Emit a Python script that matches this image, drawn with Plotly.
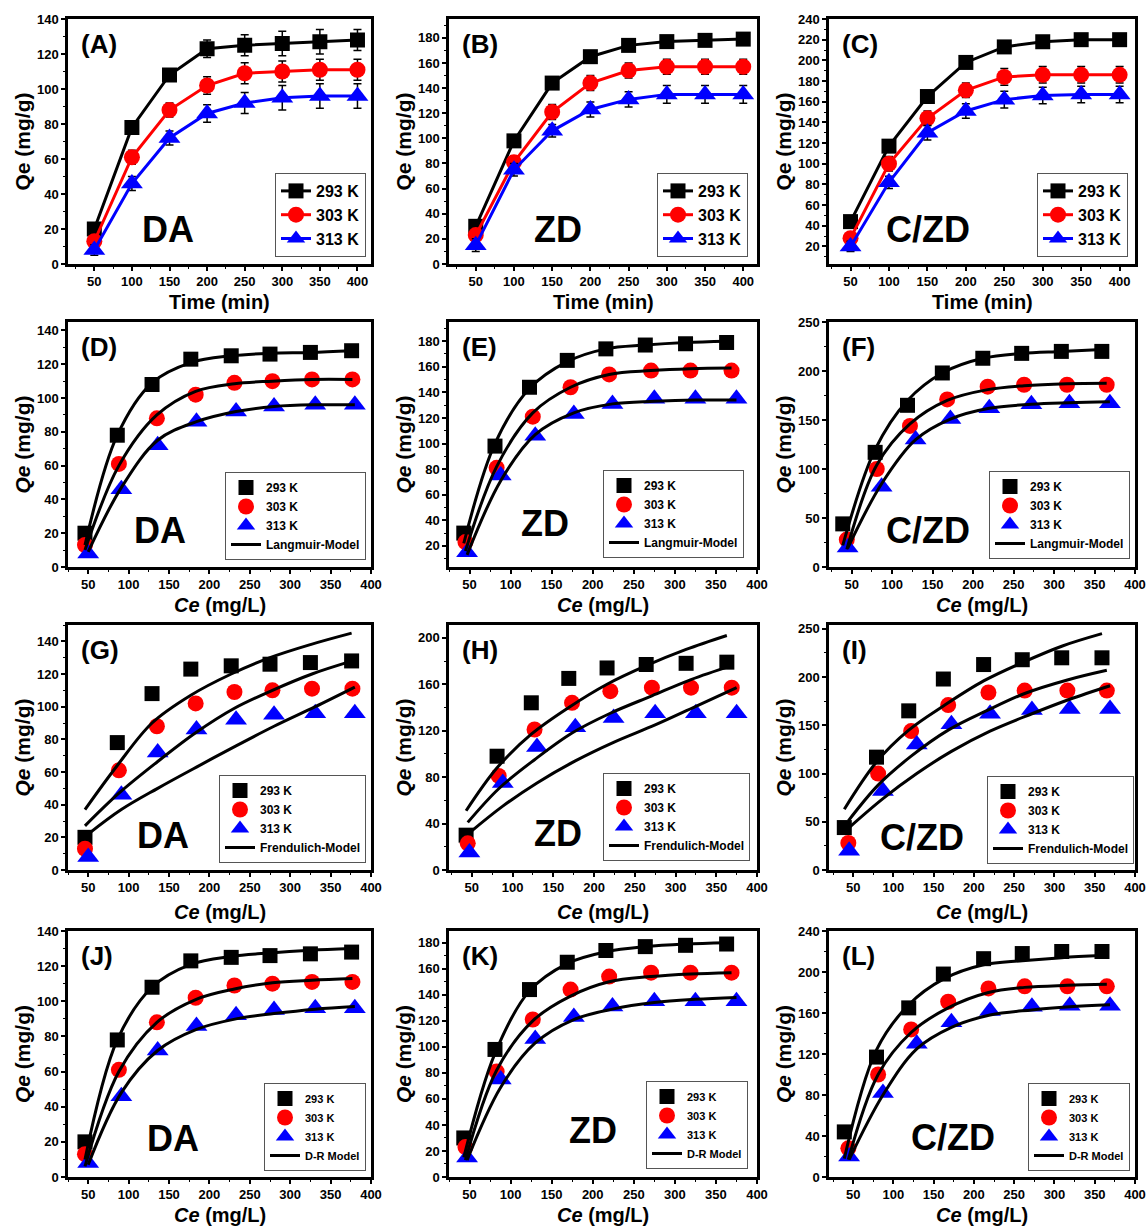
import plotly.graph_objects as go

W, H = 1146, 1229

# ---------------- data ----------------
time_min = [50, 100, 150, 200, 250, 300, 350, 400]
temps = ["293 K", "303 K", "313 K"]

# Qe (mg/g) — same equilibrium values used in kinetics and isotherm panels
qe_DA_293 = [20, 78, 108, 123, 125, 126, 127, 128]
qe_DA_303 = [13, 61, 88, 102, 109, 110, 111, 111]
qe_DA_313 = [8, 46, 72, 86, 92, 95, 96, 96]
qe_ZD_293 = [30, 98, 144, 165, 174, 177, 178, 179]
qe_ZD_303 = [23, 81, 121, 144, 154, 157, 157, 157]
qe_ZD_313 = [15, 75, 106, 123, 131, 135, 135, 135]
qe_CZD_293 = [44, 117, 165, 198, 213, 218, 220, 220]
qe_CZD_303 = [28, 100, 144, 171, 184, 186, 186, 186]
qe_CZD_313 = [20, 82, 130, 151, 162, 166, 167, 167]

# error bars (kinetics)
err_DA_293 = [3, 3, 3, 5, 6, 7, 7, 6]
err_DA_303 = [3, 4, 4, 5, 6, 6, 6, 6]
err_DA_313 = [3, 4, 4, 5, 6, 7, 7, 7]
err_ZD_293 = [3, 4, 4, 3, 3, 3, 3, 3]
err_ZD_303 = [3, 5, 6, 6, 6, 6, 6, 6]
err_ZD_313 = [5, 5, 5, 6, 6, 7, 7, 7]
err_CZD_293 = [3, 4, 4, 4, 3, 3, 3, 3]
err_CZD_303 = [5, 7, 7, 7, 8, 8, 8, 8]
err_CZD_313 = [5, 6, 7, 7, 8, 8, 8, 8]

# Ce (mg/L)
ce_DA_293 = [46, 86, 129, 177, 227, 275, 325, 376]
ce_DA_303 = [46, 88, 135, 183, 231, 278, 327, 377]
ce_DA_313 = [50, 91, 136, 184, 233, 280, 331, 380]
ce_ZD_293 = [43, 81, 123, 169, 216, 264, 313, 363]
ce_ZD_303 = [45, 83, 127, 173, 220, 271, 319, 369]
ce_ZD_313 = [47, 88, 130, 177, 224, 275, 325, 375]
ce_CZD_293 = [39, 79, 119, 162, 212, 260, 309, 359]
ce_CZD_303 = [44, 81, 122, 168, 218, 263, 316, 365]
ce_CZD_313 = [45, 87, 129, 172, 220, 272, 319, 369]

# model curves (values at the Ce points)
lang_DA_293 = [13, 78, 109, 121, 125, 126.5, 127, 128]
lang_DA_303 = [10, 60, 90, 104, 108.5, 110, 111, 111]
lang_DA_313 = [9, 47, 75, 86, 92, 95, 96, 96]
lang_ZD_293 = [22, 100, 143, 164, 174, 177, 179, 180]
lang_ZD_303 = [16, 82, 124, 144, 154, 157, 158.5, 159]
lang_ZD_313 = [13, 71, 107, 124, 131, 133, 134, 134]
lang_CZD_293 = [22, 120, 170, 198, 213, 218, 220, 222]
lang_CZD_303 = [18, 104, 146, 170, 181, 185, 187, 187.5]
lang_CZD_313 = [19, 85, 130, 151, 162, 166, 167.5, 168.5]

freu_DA_293 = [37, 64, 90, 107, 120, 130, 138, 145]
freu_DA_303 = [27, 47, 66, 84, 99, 110, 120, 128]
freu_DA_313 = [22, 37, 50, 63, 76, 88, 100, 112]
freu_ZD_293 = [51, 88, 117, 140, 160, 176, 190, 202]
freu_ZD_303 = [41, 70, 95, 118, 135, 150, 164, 176]
freu_ZD_313 = [32, 55, 75, 94, 110, 125, 141, 157]
freu_CZD_293 = [63, 112, 145, 170, 196, 215, 232, 245]
freu_CZD_303 = [51, 88, 118, 145, 166, 183, 197, 207]
freu_CZD_313 = [44, 74, 100, 123, 144, 162, 177, 191]

dr_DA_293 = [10, 78, 108, 121, 125.5, 127.5, 129, 130]
dr_DA_303 = [6, 60, 88, 101, 107, 110.5, 112, 113]
dr_DA_313 = [7, 48, 72, 84, 90, 93, 95.5, 97]
dr_ZD_293 = [15, 95, 143, 164, 173, 177, 179, 180]
dr_ZD_303 = [13, 82, 120, 139, 150, 154, 156, 157]
dr_ZD_313 = [13, 69, 103, 121, 129, 134, 136.5, 138]
dr_CZD_293 = [18, 124, 168, 193, 207, 211, 214, 216]
dr_CZD_303 = [17, 100, 141, 165, 180, 185, 187, 188]
dr_CZD_313 = [17, 80, 125, 146, 158, 163, 166, 168]

materials = {
    "DA": dict(qe=[qe_DA_293, qe_DA_303, qe_DA_313], err=[err_DA_293, err_DA_303, err_DA_313],
               ce=[ce_DA_293, ce_DA_303, ce_DA_313],
               lang=[lang_DA_293, lang_DA_303, lang_DA_313],
               freu=[freu_DA_293, freu_DA_303, freu_DA_313],
               dr=[dr_DA_293, dr_DA_303, dr_DA_313]),
    "ZD": dict(qe=[qe_ZD_293, qe_ZD_303, qe_ZD_313], err=[err_ZD_293, err_ZD_303, err_ZD_313],
               ce=[ce_ZD_293, ce_ZD_303, ce_ZD_313],
               lang=[lang_ZD_293, lang_ZD_303, lang_ZD_313],
               freu=[freu_ZD_293, freu_ZD_303, freu_ZD_313],
               dr=[dr_ZD_293, dr_ZD_303, dr_ZD_313]),
    "C/ZD": dict(qe=[qe_CZD_293, qe_CZD_303, qe_CZD_313], err=[err_CZD_293, err_CZD_303, err_CZD_313],
                 ce=[ce_CZD_293, ce_CZD_303, ce_CZD_313],
                 lang=[lang_CZD_293, lang_CZD_303, lang_CZD_313],
                 freu=[freu_CZD_293, freu_CZD_303, freu_CZD_313],
                 dr=[dr_CZD_293, dr_CZD_303, dr_CZD_313]),
}
model_names = {"lang": "Langmuir-Model", "freu": "Frendulich-Model", "dr": "D-R Model"}

# ---------------- styling / layout ----------------
colors = ["#000000", "#ff0000", "#0000ff"]
symbols = ["square", "circle", "triangle-up"]
msizes = [15, 16, 19]
FONT = "Arial, Liberation Sans, sans-serif"

cols_px = [(68, 371), (449, 757), (829, 1135)]
rows_px = [(19, 264), (322, 567), (625, 870), (931, 1177)]
row_kind = ["kin", "lang", "freu", "dr"]
mat_order = ["DA", "ZD", "C/ZD"]
labels = "ABCDEFGHIJKL"

# per panel: x range, y range, y dtick, legend (right, bottom) px, material text center px, legend font
panel_cfg = [
    dict(xr=[15, 418], yr=[0, 140], yd=20, leg=(366, 257), txt=(168, 230), lf=16),
    dict(xr=[15, 418], yr=[0, 195], yd=20, leg=(748, 257), txt=(558, 230), lf=16),
    dict(xr=[22, 420], yr=[3, 240], yd=20, leg=(1128, 257), txt=(928, 230), lf=16),
    dict(xr=[25, 400], yr=[0, 145], yd=20, leg=(366, 560), txt=(160, 530), lf=12),
    dict(xr=[25, 400], yr=[3.5, 195], yd=20, leg=(744, 558), txt=(545, 523), lf=12),
    dict(xr=[22, 400], yr=[0, 250], yd=50, leg=(1130, 559), txt=(928, 530), lf=12),
    dict(xr=[25, 400], yr=[0, 150], yd=20, leg=(366, 863), txt=(163, 835), lf=12),
    dict(xr=[22, 400], yr=[0, 211], yd=40, leg=(750, 861), txt=(558, 833), lf=12),
    dict(xr=[20, 400], yr=[0, 254], yd=50, leg=(1134, 864), txt=(922, 837), lf=12),
    dict(xr=[25, 400], yr=[0, 140], yd=20, leg=(366, 1171), txt=(173, 1138), lf=11),
    dict(xr=[25, 400], yr=[0, 189], yd=20, leg=(748, 1169), txt=(593, 1130), lf=11),
    dict(xr=[20, 400], yr=[0, 240], yd=40, leg=(1130, 1171), txt=(953, 1137), lf=11),
]
xtitle_y = [302, 605, 912, 1215]

fig = go.Figure()
layout = dict(width=W, height=H, margin=dict(l=0, r=0, t=0, b=0),
              paper_bgcolor="white", plot_bgcolor="white", showlegend=True,
              font=dict(family=FONT, color="black"))
annotations = []

for r in range(4):
    for c in range(3):
        i = r * 3 + c + 1
        cfg = panel_cfg[i - 1]
        mat = mat_order[c]
        kind = row_kind[r]
        d = materials[mat]
        xa = "x" if i == 1 else f"x{i}"
        ya = "y" if i == 1 else f"y{i}"
        lg = "legend" if i == 1 else f"legend{i}"
        (x0, x1) = cols_px[c]
        (y0, y1) = rows_px[r]

        if kind == "kin":
            for j in range(3):
                fig.add_trace(go.Scatter(
                    x=time_min, y=d["qe"][j], name=temps[j], mode="lines+markers",
                    line=dict(color=colors[j], width=3),
                    marker=dict(symbol=symbols[j], size=msizes[j], color=colors[j]),
                    error_y=dict(type="data", array=d["err"][j], color="black",
                                 thickness=1.5, width=4),
                    xaxis=xa, yaxis=ya, legend=lg))
        else:
            for j in range(3):
                fig.add_trace(go.Scatter(
                    x=d["ce"][j], y=d["qe"][j], name=temps[j], mode="markers",
                    marker=dict(symbol=symbols[j], size=msizes[j], color=colors[j]),
                    xaxis=xa, yaxis=ya, legend=lg))
            for j in range(3):
                fig.add_trace(go.Scatter(
                    x=d["ce"][j], y=d[kind][j], name=model_names[kind], mode="lines",
                    line=dict(color="black", width=3, shape="spline", smoothing=1.0),
                    showlegend=(j == 0), xaxis=xa, yaxis=ya, legend=lg))

        axis_common = dict(showline=True, linecolor="black", linewidth=2.5, mirror=True,
                           ticks="outside", ticklen=4, tickwidth=1.5, tickcolor="black",
                           showgrid=False, zeroline=False, automargin=False,
                           tickfont=dict(family=FONT, size=13, weight="bold", color="black"))
        xkey = "xaxis" if i == 1 else f"xaxis{i}"
        ykey = "yaxis" if i == 1 else f"yaxis{i}"
        layout[xkey] = dict(axis_common, domain=[x0 / W, x1 / W], range=cfg["xr"],
                            tick0=50, dtick=50, anchor=ya,
                            minor=dict(ticks="outside", ticklen=2, tickwidth=1,
                                       tickcolor="black", dtick=25, tick0=25))
        layout[ykey] = dict(axis_common, domain=[1 - y1 / H, 1 - y0 / H], range=cfg["yr"],
                            tick0=0, dtick=cfg["yd"], anchor=xa,
                            minor=dict(ticks="outside", ticklen=2, tickwidth=1,
                                       tickcolor="black", dtick=cfg["yd"] / 2))
        lr, lb = cfg["leg"]
        layout[lg] = dict(x=lr / W, y=1 - lb / H, xanchor="right", yanchor="bottom",
                          bgcolor="white", bordercolor="#555555", borderwidth=1,
                          font=dict(family=FONT, size=cfg["lf"], weight="bold", color="black"),
                          itemwidth=30, tracegroupgap=0)

        # panel label
        annotations.append(dict(text=f"({labels[i-1]})", xref="paper", yref="paper",
                                x=(x0 + 11) / W, y=1 - (y0 + 25) / H, xanchor="left",
                                yanchor="middle", showarrow=False,
                                font=dict(family=FONT, size=26, weight="bold", color="black")))
        # material label
        tx, ty = cfg["txt"]
        annotations.append(dict(text=mat, xref="paper", yref="paper", x=tx / W, y=1 - ty / H,
                                xanchor="center", yanchor="middle", showarrow=False,
                                font=dict(family=FONT, size=36, weight="bold", color="black")))
        # axis titles
        xt = "Time (min)" if kind == "kin" else "<i>Ce</i> (mg/L)"
        annotations.append(dict(text=xt, xref="paper", yref="paper",
                                x=(x0 + x1) / 2 / W, y=1 - xtitle_y[r] / H,
                                xanchor="center", yanchor="middle", showarrow=False,
                                font=dict(family=FONT, size=20, weight="bold", color="black")))
        yt = "Qe (mg/g)" if kind == "kin" else "<i>Qe</i> (mg/g)"
        annotations.append(dict(text=yt, xref="paper", yref="paper",
                                x=(x0 - 46) / W, y=1 - (y0 + y1) / 2 / H, textangle=-90,
                                xanchor="center", yanchor="middle", showarrow=False,
                                font=dict(family=FONT, size=21, weight="bold", color="black")))

layout["annotations"] = annotations
fig.update_layout(**layout)
fig.write_html("out.html")
